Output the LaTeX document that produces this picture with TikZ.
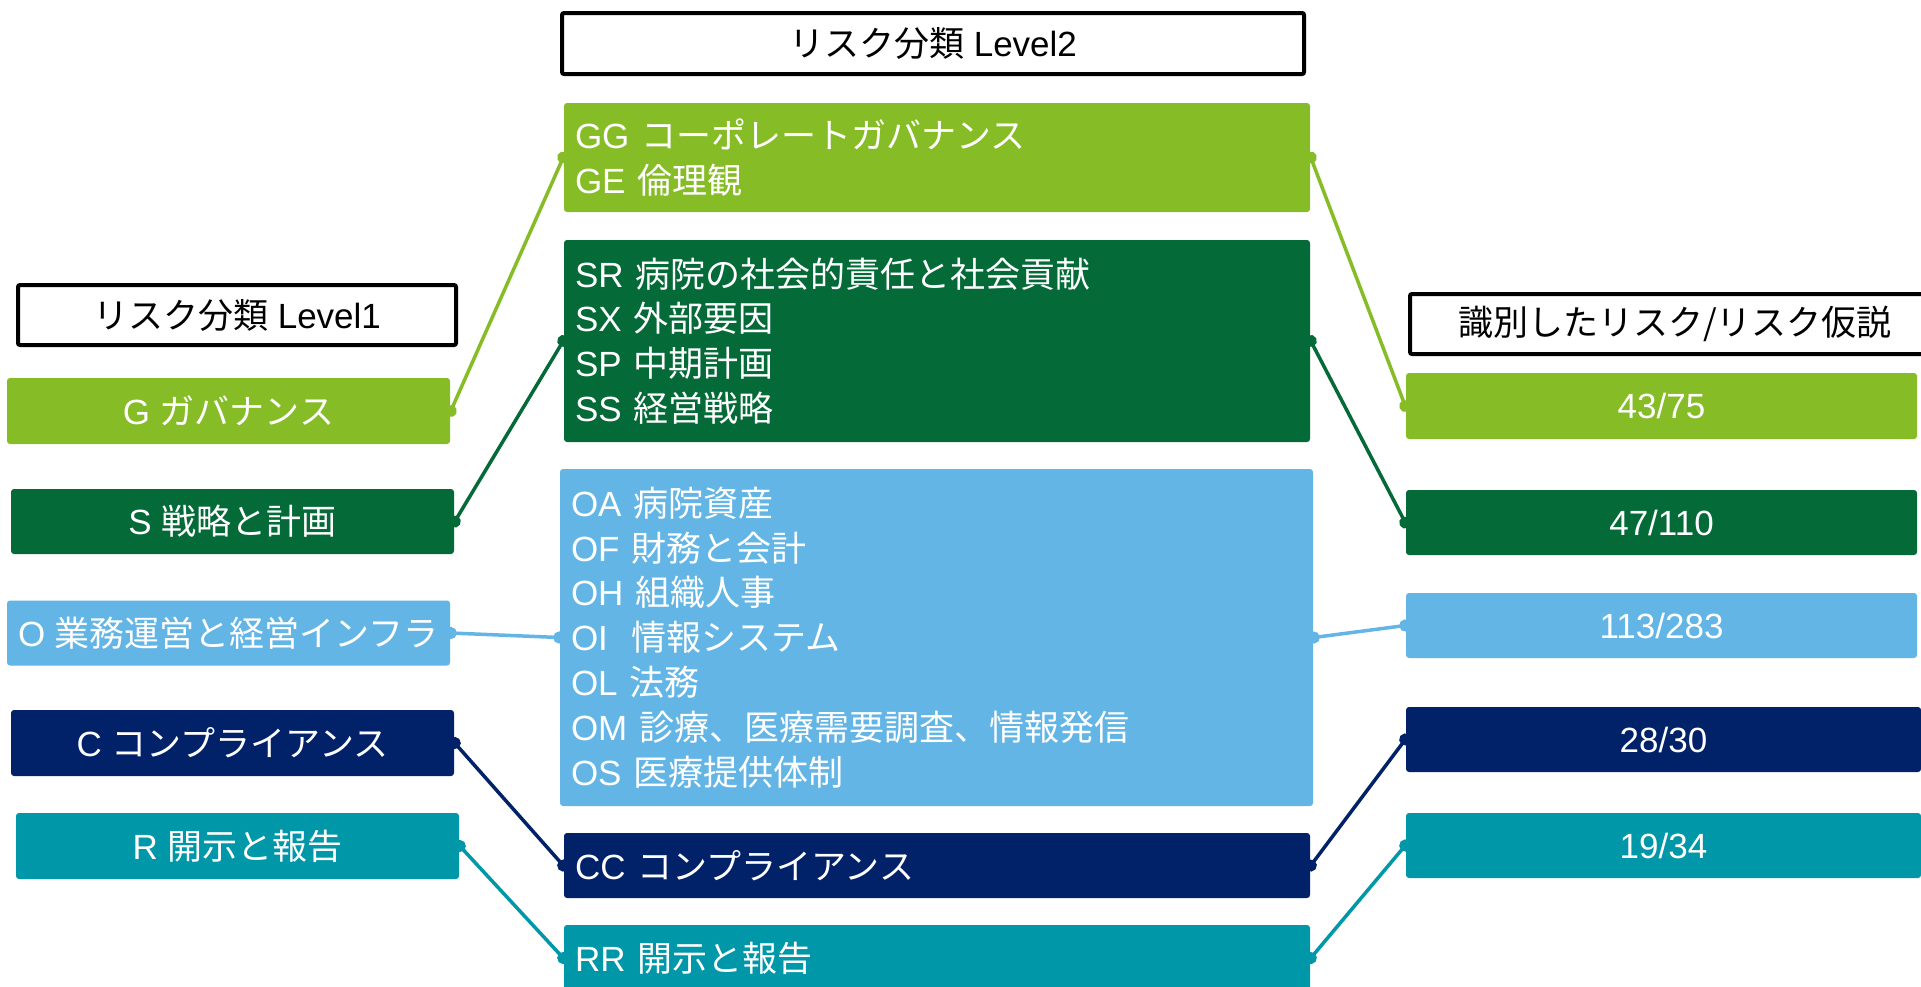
\documentclass[tikz,border=0pt]{standalone}
\usepackage{fontspec}
\setmainfont{Liberation Sans}
\newfontfamily\jpfont{Noto Sans CJK JP}
\usetikzlibrary{arrows.meta}

\definecolor{gcol}{HTML}{86BC25}
\definecolor{scol}{HTML}{046A38}
\definecolor{ocol}{HTML}{62B5E5}
\definecolor{ccol}{HTML}{012169}
\definecolor{rcol}{HTML}{0097A9}

\newcommand{\ja}[1]{{\jpfont #1}}

\tikzset{every picture/.style={line width=0.75pt}}

\begin{document}
\begin{tikzpicture}[x=0.5pt,y=0.5pt,yscale=-1,
	txt/.style={font=\fontsize{17.5}{22.4}\selectfont},
	hdr/.style={txt, draw=black, line width=2pt, fill=white, rounded corners=1pt, inner sep=0pt},
	box/.style={txt, fill=#1, text=white, rounded corners=1.5pt, inner sep=0pt},
	sub/.style={box=#1, align=left, inner xsep=5.5pt},
	link/.style={draw=#1, line width=1.75pt, {Circle[length=6pt]}-{Circle[length=6pt]}, shorten <=-3pt, shorten >=-3pt}]
	\useasboundingbox (0,0) rectangle (1921,986);

	% Text Node
	\node[hdr, minimum width=219pt, minimum height=30pt] (h1) at (237,315) {\ja{リスク分類} Level1};
	% Text Node
	\node[hdr, minimum width=371pt, minimum height=30.5pt] (h2) at (933,43.5) {\ja{リスク分類} Level2};
	% Text Node
	\node[hdr, minimum width=265pt, minimum height=30pt] (h3) at (1675,324) {\ja{識別したリスク/リスク仮説}};

	%Level 1
	\node[box=gcol, minimum width=221.5pt, minimum height=33pt] (g1) at (228.5,411) {G \ja{ガバナンス}};
	\node[box=scol, minimum width=221.5pt, minimum height=32.5pt] (s1) at (232.5,521.5) {S \ja{戦略と計画}};
	\node[box=ocol, minimum width=221.5pt, minimum height=32.5pt] (o1) at (228.5,633) {O \ja{業務運営と経営インフラ}};
	\node[box=ccol, minimum width=221.5pt, minimum height=33pt] (c1) at (232.5,743) {C \ja{コンプライアンス}};
	\node[box=rcol, minimum width=221.5pt, minimum height=33pt] (r1) at (237.5,846) {R \ja{開示と報告}};

	%Level 2
	\node[sub=gcol, text width=362pt, minimum width=373pt, minimum height=54.5pt] (g2) at (937,157.5)
		{GG \ja{コーポレートガバナンス}\\GE \ja{倫理観}};
	\node[sub=scol, text width=362pt, minimum width=373pt, minimum height=101pt] (s2) at (937,341)
		{SR \ja{病院の社会的責任と社会貢献}\\SX \ja{外部要因}\\SP \ja{中期計画}\\SS \ja{経営戦略}};
	\node[sub=ocol, text width=365.5pt, minimum width=376.5pt, minimum height=168.5pt] (o2) at (936.5,637.5)
		{OA \ja{病院資産}\\OF \ja{財務と会計}\\OH \ja{組織人事}\\OI\ \ \ja{情報システム}\\OL \ja{法務}\\OM \ja{診療、医療需要調査、情報発信}\\OS \ja{医療提供体制}};
	\node[sub=ccol, text width=362pt, minimum width=373pt, minimum height=32.5pt] (c2) at (937,865.5) {CC \ja{コンプライアンス}};
	\node[sub=rcol, text width=362pt, minimum width=373pt, minimum height=33pt] (r2) at (937,958) {RR \ja{開示と報告}};

	%Counts
	\node[box=gcol, minimum width=255.5pt, minimum height=33pt] (g3) at (1661.5,406) {43/75};
	\node[box=scol, minimum width=255.5pt, minimum height=32.5pt] (s3) at (1661.5,522.5) {47/110};
	\node[box=ocol, minimum width=255.5pt, minimum height=32.5pt] (o3) at (1661.5,625.5) {113/283};
	\node[box=ccol, minimum width=257.5pt, minimum height=32.5pt] (c3) at (1663.5,739.5) {28/30};
	\node[box=rcol, minimum width=257.5pt, minimum height=32.5pt] (r3) at (1663.5,845.5) {19/34};

	%Straight Lines
	\draw[link=gcol] (g1.east) -- (g2.west);
	\draw[link=gcol] (g2.east) -- (g3.west);
	%Straight Lines
	\draw[link=scol] (s1.east) -- (s2.west);
	\draw[link=scol] (s2.east) -- (s3.west);
	%Straight Lines
	\draw[link=ocol] (o1.east) -- (o2.west);
	\draw[link=ocol] (o2.east) -- (o3.west);
	%Straight Lines
	\draw[link=ccol] (c1.east) -- (c2.west);
	\draw[link=ccol] (c2.east) -- (c3.west);
	%Straight Lines
	\draw[link=rcol] (r1.east) -- (r2.west);
	\draw[link=rcol] (r2.east) -- (r3.west);

\end{tikzpicture}
\end{document}
